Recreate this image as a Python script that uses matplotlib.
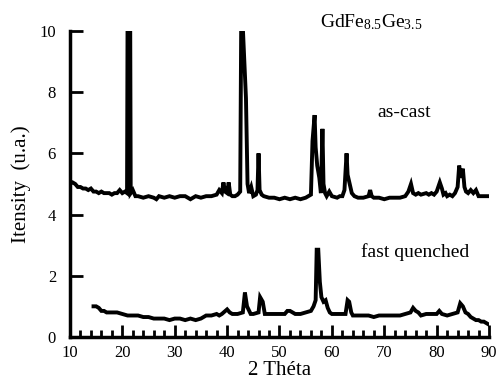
import matplotlib.pyplot as plt
from matplotlib.ticker import MultipleLocator

plt.rcParams['font.family'] = ['Liberation Serif', 'DejaVu Serif']
plt.rcParams['mathtext.fontset'] = 'custom'
plt.rcParams['mathtext.rm'] = 'Liberation Serif'

# as-cast pattern (2 theta, intensity)
ascast_x = [10.0, 10.5, 11.0, 11.5, 12.0, 12.5, 13.0, 13.5, 14.0, 14.5, 15.0, 15.5, 16.0,
            16.5, 17.0, 17.5, 18.0, 18.5, 19.0, 19.5, 20.0, 20.5, 20.9, 21.0, 21.5, 21.6,
            22.0, 22.5, 23.0, 24.0, 25.0, 26.0, 26.5, 27.0, 28.0, 29.0, 30.0, 31.0, 32.0,
            33.0, 34.0, 35.0, 36.0, 37.0, 38.0, 38.5, 39.0, 39.3, 39.6, 40.0, 40.3, 40.6,
            41.0, 41.5, 42.0, 42.5, 42.7, 42.9, 43.6, 43.9, 44.2, 44.6, 45.0, 45.5, 45.8,
            46.0, 46.2, 46.6, 47.0, 48.0, 49.0, 50.0, 51.0, 52.0, 53.0, 54.0, 55.0, 55.5,
            56.0, 56.3, 56.7, 56.9, 57.2, 57.6, 57.9, 58.2, 58.4, 58.7, 59.0, 59.5, 60.0,
            61.0, 61.5, 62.0, 62.4, 62.8, 63.0, 63.4, 63.8, 64.3, 65.0, 66.0, 67.0, 67.3,
            67.6, 68.0, 69.0, 70.0, 71.0, 72.0, 73.0, 74.0, 74.6, 75.1, 75.5, 76.0, 76.5,
            77.0, 78.0, 78.5, 79.0, 79.5, 80.0, 80.6, 81.0, 81.3, 81.7, 82.0, 82.5, 83.0,
            83.5, 84.0, 84.3, 84.6, 85.0, 85.3, 85.6, 86.0, 86.5, 87.0, 87.5, 88.0, 89.0,
            90.0]
ascast_y = [5.0, 5.05, 5.0, 4.9, 4.9, 4.85, 4.85, 4.8, 4.85, 4.75, 4.75, 4.7, 4.75,
            4.7, 4.7, 4.7, 4.65, 4.7, 4.7, 4.8, 4.7, 4.75, 4.7, 10.5, 10.5, 4.7,
            4.8, 4.6, 4.6, 4.55, 4.6, 4.55, 4.5, 4.6, 4.55, 4.6, 4.55, 4.6, 4.6,
            4.5, 4.6, 4.55, 4.6, 4.6, 4.65, 4.8, 4.7, 5.05, 4.75, 4.7, 5.05, 4.65,
            4.6, 4.6, 4.65, 4.75, 10.5, 10.5, 7.8, 5.0, 4.7, 4.9, 4.6, 4.65, 4.8,
            6.0, 4.8, 4.65, 4.6, 4.55, 4.55, 4.5, 4.55, 4.5, 4.55, 4.5, 4.55, 4.6,
            4.65, 6.4, 7.25, 6.2, 5.6, 5.2, 4.7, 6.8, 5.0, 4.7, 4.6, 4.75, 4.6,
            4.55, 4.6, 4.6, 4.8, 6.0, 5.3, 5.0, 4.7, 4.6, 4.55, 4.55, 4.6, 4.8,
            4.6, 4.55, 4.55, 4.5, 4.55, 4.55, 4.55, 4.6, 4.75, 5.0, 4.7, 4.65, 4.7,
            4.65, 4.7, 4.65, 4.7, 4.65, 4.75, 5.05, 4.85, 4.65, 4.7, 4.6, 4.65, 4.6,
            4.7, 4.9, 5.6, 5.2, 5.5, 4.9, 4.75, 4.7, 4.8, 4.7, 4.8, 4.6, 4.6,
            4.6]

# fast quenched pattern
fq_x = [14.5, 15.0, 15.5, 16.0, 16.5, 17.0, 18.0, 19.0, 20.0, 21.0, 22.0, 23.0, 24.0,
        25.0, 26.0, 27.0, 28.0, 29.0, 30.0, 31.0, 32.0, 33.0, 34.0, 35.0, 36.0, 37.0,
        38.0, 38.5, 39.0, 40.0, 40.5, 41.0, 42.0, 43.0, 43.4, 43.8, 44.5, 45.0, 46.0,
        46.3, 46.8, 47.2, 48.0, 49.0, 50.0, 51.0, 51.5, 52.0, 52.5, 53.0, 54.0, 55.0,
        56.0, 56.5, 56.9, 57.1, 57.4, 57.7, 58.0, 58.4, 58.8, 59.2, 59.6, 60.0, 61.0,
        62.0, 62.6, 63.0, 63.3, 63.7, 64.0, 65.0, 66.0, 67.0, 68.0, 69.0, 70.0, 71.0,
        72.0, 73.0, 74.0, 75.0, 75.5, 76.0, 76.5, 77.0, 78.0, 79.0, 80.0, 80.5, 81.0,
        82.0, 83.0, 84.0, 84.5, 85.0, 85.5, 86.0, 86.5, 87.0, 87.5, 88.0, 88.5, 89.0,
        89.5, 90.0]
fq_y = [1.0, 1.0, 0.95, 0.85, 0.85, 0.8, 0.8, 0.8, 0.75, 0.7, 0.7, 0.7, 0.65,
        0.65, 0.6, 0.6, 0.6, 0.55, 0.6, 0.6, 0.55, 0.6, 0.55, 0.6, 0.7, 0.7,
        0.75, 0.7, 0.75, 0.9, 0.8, 0.75, 0.75, 0.8, 1.45, 1.0, 0.75, 0.75, 0.8,
        1.3, 1.15, 0.75, 0.75, 0.75, 0.75, 0.75, 0.85, 0.85, 0.8, 0.75, 0.75, 0.8,
        0.85, 1.0, 1.2, 2.85, 2.85, 1.8, 1.3, 1.15, 1.2, 0.95, 0.8, 0.75, 0.75,
        0.75, 0.75, 1.2, 1.15, 0.8, 0.7, 0.7, 0.7, 0.7, 0.65, 0.7, 0.7, 0.7,
        0.7, 0.7, 0.75, 0.8, 0.95, 0.85, 0.8, 0.7, 0.75, 0.75, 0.75, 0.85, 0.75,
        0.7, 0.75, 0.8, 1.1, 1.0, 0.8, 0.75, 0.65, 0.6, 0.55, 0.55, 0.5, 0.5,
        0.45, 0.4]

fig = plt.figure(figsize=(4.96, 3.82), dpi=100)
ax = fig.add_axes([0.141, 0.118, 0.845, 0.801])

ax.plot(ascast_x, ascast_y, color='black', lw=2.8, solid_joinstyle='miter')
ax.plot(fq_x, fq_y, color='black', lw=2.8, solid_joinstyle='miter')

ax.set_xlim(10, 90)
ax.set_ylim(0, 10)
ax.xaxis.set_major_locator(MultipleLocator(10))
ax.xaxis.set_minor_locator(MultipleLocator(2))
ax.yaxis.set_major_locator(MultipleLocator(2))

for s in ['top', 'right']:
    ax.spines[s].set_visible(False)
for s in ['left', 'bottom']:
    ax.spines[s].set_linewidth(2.5)

ax.tick_params(axis='both', which='major', direction='in', length=9, width=2, labelsize=12)
ax.tick_params(axis='x', which='minor', direction='in', length=5, width=2)
ax.tick_params(axis='x', pad=6)
ax.tick_params(axis='y', pad=10)

ax.set_xlabel('2 Théta', fontsize=15, labelpad=0)
ax.set_ylabel('Itensity  (u.a.)', fontsize=15, labelpad=6)

ax.text(67.5, 10.3, r'$\mathrm{GdFe_{8.5}Ge_{3.5}}$', fontsize=14, ha='center', va='center',
        clip_on=False)
ax.text(73.8, 7.35, 'as-cast', fontsize=14, ha='center', va='center')
ax.text(75.9, 2.78, 'fast quenched', fontsize=14, ha='center', va='center')

fig.savefig('out.png', dpi=100)
